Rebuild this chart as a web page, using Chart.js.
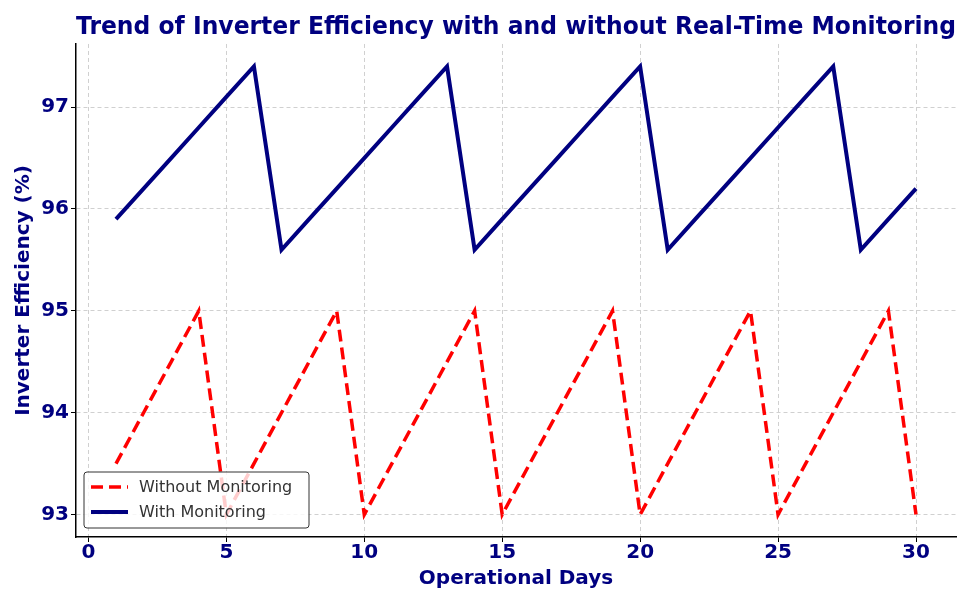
<!DOCTYPE html>
<html>
<head>
<meta charset="utf-8">
<script src="https://cdn.jsdelivr.net/npm/chart.js@4.4.0/dist/chart.umd.min.js"></script>
<style>
  html, body { margin: 0; padding: 0; background: #fff; }
  #wrap { width: 963px; height: 589px; position: relative; }
</style>
</head>
<body>
<div id="wrap"><canvas id="effChart" width="963" height="589"></canvas></div>
<script>
// data
const days = [1,2,3,4,5,6,7,8,9,10,11,12,13,14,15,16,17,18,19,20,21,22,23,24,25,26,27,28,29,30];
const withoutMonitoring = [93.5,94,94.5,95,93, 93.5,94,94.5,95,93, 93.5,94,94.5,95,93,
                           93.5,94,94.5,95,93, 93.5,94,94.5,95,93, 93.5,94,94.5,95,93];
const withMonitoring = [95.9,96.2,96.5,96.8,97.1,97.4, 95.6,95.9,96.2,96.5,96.8,97.1,97.4,
                        95.6,95.9,96.2,96.5,96.8,97.1,97.4, 95.6,95.9,96.2,96.5,96.8,97.1,97.4,
                        95.6,95.9,96.2];
const xTicks = [0,5,10,15,20,25,30];
const yTicks = [93,94,95,96,97];
const seriesNames = ['Without Monitoring', 'With Monitoring'];

const NAVY = '#000080';
const FONT = "'DejaVu Sans', sans-serif";

// legend box drawn inside the plot, lower left (like matplotlib loc='lower left')
const insideLegend = {
  id: 'insideLegend',
  afterDatasetsDraw(chart) {
    const ctx = chart.ctx;
    const area = chart.chartArea;
    const x0 = area.left + 8, y0 = area.bottom - 65, w = 225, h = 56;
    ctx.save();
    ctx.beginPath();
    ctx.roundRect(x0, y0, w, h, 3);
    ctx.fillStyle = 'rgba(255,255,255,0.8)';
    ctx.fill();
    ctx.lineWidth = 1;
    ctx.strokeStyle = '#333';
    ctx.stroke();
    chart.data.datasets.forEach((ds, i) => {
      const cy = y0 + 15 + i * 25;
      ctx.beginPath();
      ctx.setLineDash(ds.borderDash || []);
      ctx.strokeStyle = ds.borderColor;
      ctx.lineWidth = ds.borderWidth;
      ctx.moveTo(x0 + 7, cy);
      ctx.lineTo(x0 + 44, cy);
      ctx.stroke();
      ctx.setLineDash([]);
      ctx.fillStyle = '#333';
      ctx.font = '16px ' + FONT;
      ctx.textBaseline = 'middle';
      ctx.fillText(ds.label, x0 + 55, cy + 1);
    });
    ctx.restore();
  }
};

const gridOpts = {
  color: '#d0d0d0',
  tickColor: '#000',
  tickBorderDash: [],
  tickLength: 5,
  tickWidth: 1
};

const ctx = document.getElementById('effChart').getContext('2d');
const effChart = new Chart(ctx, {
  type: 'line',
  data: {
    labels: days,
    datasets: [{
      label: seriesNames[0],
      data: withoutMonitoring,
      borderColor: '#ff0000',
      borderDash: [12, 6],
      borderWidth: 3.5,
      pointRadius: 0,
      tension: 0,
      fill: false
    }, {
      label: seriesNames[1],
      data: withMonitoring,
      borderColor: NAVY,
      borderWidth: 4,
      pointRadius: 0,
      tension: 0,
      fill: false
    }]
  },
  options: {
    responsive: false,
    animation: false,
    layout: { padding: { left: 0, right: 7, top: 0, bottom: 0 } },
    scales: {
      x: {
        type: 'linear',
        min: -0.45,
        max: 31.45,
        afterBuildTicks: s => { s.ticks = xTicks.map(v => ({ value: v })); },
        afterFit: s => { s.height = 52; },
        border: { color: '#000', width: 1.5, dash: [4, 3] },
        grid: gridOpts,
        ticks: { color: NAVY, font: { family: FONT, size: 20, weight: 'bold' }, padding: -1, maxRotation: 0 },
        title: {
          display: true,
          text: 'Operational Days',
          color: NAVY,
          font: { family: FONT, size: 20, weight: 'bold' },
          padding: { top: 0, bottom: -2 }
        }
      },
      y: {
        min: 92.78,
        max: 97.62,
        afterBuildTicks: s => { s.ticks = yTicks.map(v => ({ value: v })); },
        afterFit: s => { s.width = 76; },
        border: { color: '#000', width: 1.5, dash: [4, 3] },
        grid: gridOpts,
        ticks: { color: NAVY, font: { family: FONT, size: 20, weight: 'bold' }, padding: 2 },
        title: {
          display: true,
          text: 'Inverter Efficiency (%)',
          color: NAVY,
          font: { family: FONT, size: 20, weight: 'bold' },
          padding: { top: 12, bottom: 0 }
        }
      }
    },
    plugins: {
      legend: { display: false },
      tooltip: { enabled: false },
      title: {
        display: true,
        fullSize: false,
        text: 'Trend of Inverter Efficiency with and without Real-Time Monitoring',
        color: NAVY,
        font: { family: FONT, size: 24.4, weight: 'bold' },
        padding: { top: 13, bottom: 1.7 }
      }
    }
  },
  plugins: [insideLegend]
});

// points built from the arrays
effChart.data.datasets[0].data = days.map((d, i) => ({ x: d, y: withoutMonitoring[i] }));
effChart.data.datasets[1].data = days.map((d, i) => ({ x: d, y: withMonitoring[i] }));
effChart.update();
</script>
</body>
</html>
